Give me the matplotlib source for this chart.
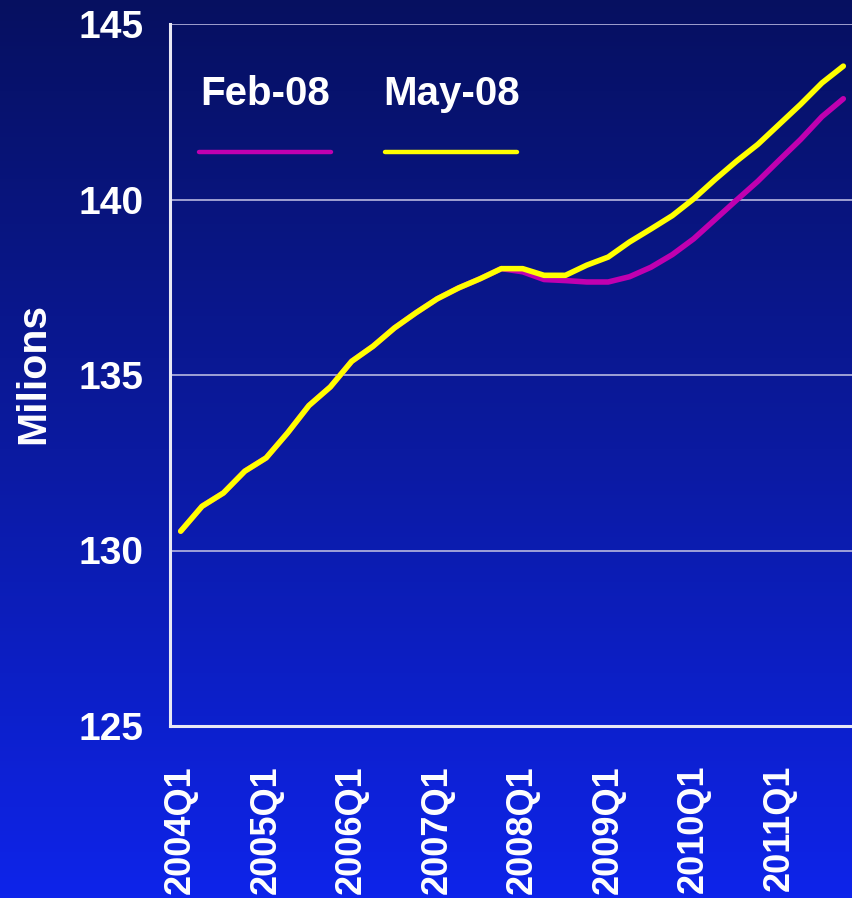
import numpy as np
import matplotlib
matplotlib.use("Agg")
import matplotlib.pyplot as plt
from matplotlib.colors import LinearSegmentedColormap

quarters = [f"{y}Q{q}" for y in range(2004, 2012) for q in range(1, 5)]
tick_labels = [f"{y}Q1" for y in range(2004, 2012)]

may08 = [130.55, 131.26, 131.64, 132.26, 132.64, 133.35, 134.13, 134.66,
         135.39, 135.82, 136.34, 136.77, 137.17, 137.48, 137.74, 138.03,
         138.03, 137.84, 137.84, 138.13, 138.36, 138.79, 139.16, 139.54,
         140.02, 140.57, 141.09, 141.57, 142.14, 142.71, 143.32, 143.80]
feb08 = [130.55, 131.26, 131.64, 132.26, 132.64, 133.35, 134.13, 134.66,
         135.39, 135.82, 136.34, 136.77, 137.17, 137.48, 137.74, 138.03,
         137.94, 137.72, 137.69, 137.65, 137.65, 137.80, 138.07, 138.43,
         138.88, 139.43, 139.98, 140.52, 141.12, 141.71, 142.36, 142.87]
series_names = ["Feb-08", "May-08"]
series_colors = ["#C000B0", "#FFFF00"]

plt.rcParams['font.family'] = ['Liberation Sans', 'DejaVu Sans']
plt.rcParams['font.weight'] = 'bold'

W, H = 852, 898
fig = plt.figure(figsize=(W/100, H/100), dpi=100)

# background gradient
bg = fig.add_axes([0, 0, 1, 1], zorder=-10)
cmap = LinearSegmentedColormap.from_list("bg", [(6/255, 16/255, 96/255), (11/255, 26/255, 160/255), (14/255, 36/255, 234/255)])
grad = np.linspace(0, 1, 256).reshape(-1, 1)
bg.imshow(grad, aspect='auto', cmap=cmap, extent=[0, 1, 0, 1], origin='upper')
bg.axis('off')

L, R, T, B = 170, 854, 24, 726
ax = fig.add_axes([L/W, 1 - B/H, (R-L)/W, (B-T)/H])
ax.set_facecolor('none')

x = np.arange(len(quarters))
ax.plot(x, feb08, color=series_colors[0], lw=4.0, solid_capstyle='round', zorder=3)
ax.plot(x, may08, color=series_colors[1], lw=4.0, solid_capstyle='round', zorder=4)

ax.set_xlim(-0.5, len(quarters) - 0.5)
ax.set_ylim(125, 145)
ax.set_yticks([125, 130, 135, 140, 145])
ax.set_xticks(x[::4])
ax.set_xticklabels(tick_labels, rotation=90)
ax.tick_params(axis='both', length=0, colors='white')
ax.tick_params(axis='y', pad=19, labelsize=28)
ax.tick_params(axis='x', pad=28, labelsize=26)
for lab in ax.get_xticklabels() + ax.get_yticklabels():
    lab.set_fontweight('bold')

for v in [130, 135, 140, 145]:
    ax.axhline(v, color='#B8B8E0', lw=1.2, zorder=1)

for s in ['top', 'right']:
    ax.spines[s].set_visible(False)
for s in ['left', 'bottom']:
    ax.spines[s].set_color('#E8E8F4')
    ax.spines[s].set_linewidth(2.2)

fig.text(33/W, 1 - 373/H, "Milions", rotation=90, color='white', fontsize=29.5,
         fontweight='bold', ha='center', va='center')

def axx(px):
    return (px - L) / (R - L)

def axy(py):
    return (B - py) / (B - T)

legend_pos = [(200, 199, 331), (383, 385, 517)]
for name, col, (tx, lx0, lx1) in zip(series_names, series_colors, legend_pos):
    ax.text(axx(tx), axy(105), name, transform=ax.transAxes, color='white',
            fontsize=29, fontweight='bold', ha='left', va='baseline')
    ax.plot([axx(lx0), axx(lx1)], [axy(152), axy(152)], transform=ax.transAxes,
            color=col, lw=3.2, solid_capstyle='round', clip_on=False)

fig.savefig("out.png", dpi=100)
